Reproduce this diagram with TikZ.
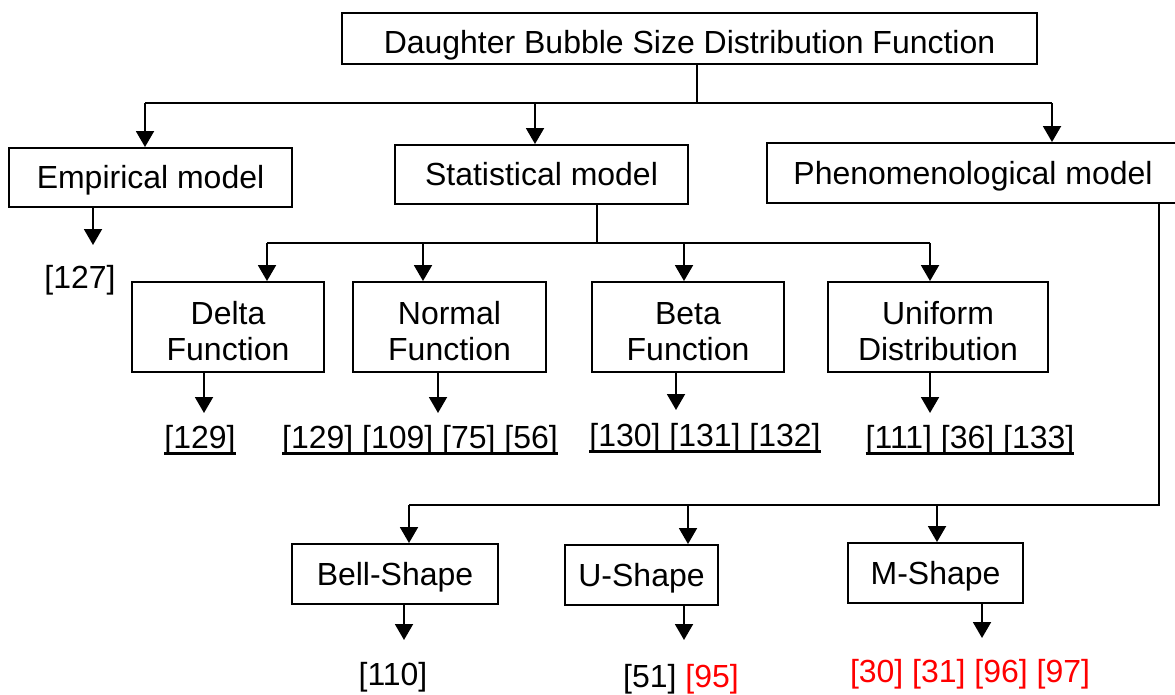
\documentclass[tikz,border=0pt]{standalone}
\usepackage{fontspec}
\setmainfont{Liberation Sans}
\usetikzlibrary{arrows.meta}
\newcommand\refline[1]{\setbox0\hbox{#1}\leavevmode\rlap{\rule[-4pt]{\wd0}{1.6pt}}\box0}
\tikzset{
  box/.style={draw, line width=1.1pt, inner sep=0pt, align=center,
    font=\fontsize{18.2}{20.5}\selectfont},
  oneline/.style={box, text height=13pt, text depth=0pt},
  twoline/.style={box, text height=38.2pt, text depth=0pt},
  ref/.style={inner sep=0pt, font=\fontsize{18.2}{20.5}\selectfont},
}
\begin{document}
\begin{tikzpicture}[x=0.02cm, y=-0.02cm, line width=1.1pt,
  >={Triangle[length=0.32cm, width=0.36cm]}]
\useasboundingbox (0,0) rectangle (1175,695);
% top level
\node[oneline, text height=17pt, minimum width=13.9cm, minimum height=1.02cm] (top) at (689.5,38.5)
  {Daughter Bubble Size Distribution Function};
\node[oneline, minimum width=5.66cm, minimum height=1.18cm] (emp) at (150.5,177.5) {Empirical model};
\node[oneline, minimum width=5.86cm, minimum height=1.18cm] (stat) at (541.5,174.5) {Statistical model};
\node[oneline, minimum width=8.24cm, minimum height=1.2cm] (phen) at (973,173) {Phenomenological model};
\coordinate (t0) at (697,103);
\coordinate (t1) at (145,103);
\coordinate (t2) at (535,103);
\coordinate (t3) at (1052,103);
\draw (top.south -| t0) -- (t0);
\draw (t1) -- (t3);
\draw[->] (t1) -- (emp.north -| t1);
\draw[->] (t2) -- (stat.north -| t2);
\draw[->] (t3) -- (phen.north -| t3);
% empirical
\node[ref] (r127) at (80,280) {[127]};
\coordinate (e1) at (93,245);
\draw[->] (emp.south -| e1) -- (e1);
% statistical
\node[twoline, minimum width=3.84cm, minimum height=1.8cm] (delta) at (228,327) {Delta\\Function};
\node[twoline, minimum width=3.86cm, minimum height=1.8cm] (normal) at (449.5,327) {Normal\\Function};
\node[twoline, minimum width=3.84cm, minimum height=1.8cm] (beta) at (688,327) {Beta\\Function};
\node[twoline, minimum width=4.4cm, minimum height=1.8cm] (unif) at (938,327) {Uniform\\Distribution};
\coordinate (s0) at (597,243);
\coordinate (s1) at (267,243);
\coordinate (s2) at (423,243);
\coordinate (s3) at (684,243);
\coordinate (s4) at (930,243);
\draw (stat.south -| s0) -- (s0);
\draw (s1) -- (s4);
\draw[->] (s1) -- (delta.north -| s1);
\draw[->] (s2) -- (normal.north -| s2);
\draw[->] (s3) -- (beta.north -| s3);
\draw[->] (s4) -- (unif.north -| s4);
\node[ref] (rdelta) at (200,440) {\refline{[129]}};
\node[ref] (rnormal) at (420,440) {\refline{[129] [109] [75] [56]}};
\node[ref] (rbeta) at (705,438) {\refline{[130] [131] [132]}};
\node[ref] (runif) at (970,440) {\refline{[111] [36] [133]}};
\coordinate (d1) at (204,413);
\coordinate (n1) at (438,413);
\coordinate (b1) at (676,410);
\coordinate (u1) at (930,413);
\draw[->] (delta.south -| d1) -- (d1);
\draw[->] (normal.south -| n1) -- (n1);
\draw[->] (beta.south -| b1) -- (b1);
\draw[->] (unif.south -| u1) -- (u1);
% phenomenological
\node[oneline, minimum width=4.12cm, minimum height=1.2cm] (bell) at (395,574) {Bell-Shape};
\node[oneline, minimum width=3.06cm, minimum height=1.2cm] (ushape) at (641.5,575) {U-Shape};
\node[oneline, minimum width=3.5cm, minimum height=1.2cm] (mshape) at (935.5,573) {M-Shape};
\coordinate (p0) at (1159,505);
\coordinate (p1) at (409,505);
\coordinate (p2) at (688,505);
\coordinate (p3) at (937,505);
\draw (phen.south -| p0) -- (p0) -- (p1);
\draw[->] (p1) -- (bell.north -| p1);
\draw[->] (p2) -- (ushape.north -| p2);
\draw[->] (p3) -- (mshape.north -| p3);
\node[ref] (rbell) at (393,677) {[110]};
\node[ref] (rushape) at (681,679) {[51] \textcolor{red}{[95]}};
\node[ref, red] (rmshape) at (970,674) {[30] [31] [96] [97]};
\coordinate (q1) at (404,640);
\coordinate (q2) at (684,640);
\coordinate (q3) at (982,638);
\draw[->] (bell.south -| q1) -- (q1);
\draw[->] (ushape.south -| q2) -- (q2);
\draw[->] (mshape.south -| q3) -- (q3);
\end{tikzpicture}
\end{document}
